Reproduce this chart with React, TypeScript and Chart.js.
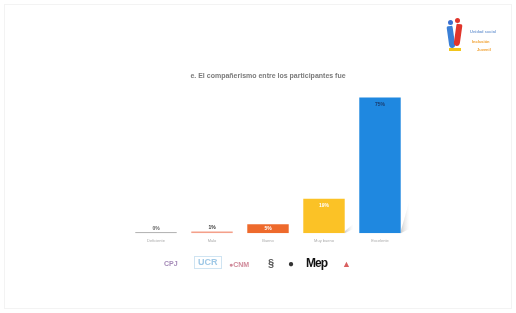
import React, { useEffect, useRef } from "react";
import { Chart, registerables } from "chart.js";

Chart.register(...registerables);

const TITLE = "e. El compañerismo entre los participantes fue";
const CATEGORIES = ["Deficiente", "Malo", "Bueno", "Muy bueno", "Excelente"];
const VALUES = [0, 1, 5, 19, 75];
const COLORS = ["#9e9e9e", "#f4a08a", "#ee6a2c", "#fbc226", "#1f88e0"];
const LABEL_COLORS = ["#666666", "#333333", "#ffffff", "#ffffff", "#1a3c6e"];

const valueLabels = {
  id: "valueLabels",
  afterDatasetsDraw(chart: any) {
    const ctx = chart.ctx;
    const meta = chart.getDatasetMeta(0);
    ctx.save();
    ctx.font = "bold 5px 'Liberation Sans', Arial, sans-serif";
    ctx.textAlign = "center";
    ctx.textBaseline = "middle";
    meta.data.forEach((bar: any, i: number) => {
      const v = VALUES[i];
      const h = bar.base - bar.y;
      let y: number;
      if (i === 2) y = bar.y + h / 2;
      else if (h > 14) y = bar.y + 7;
      else y = bar.y - 4;
      ctx.fillStyle = LABEL_COLORS[i];
      ctx.fillText(v + "%", bar.x, y);
    });
    ctx.restore();
  },
};

const shadows = {
  id: "shadows",
  beforeDatasetsDraw(chart: any) {
    const ctx = chart.ctx;
    const meta = chart.getDatasetMeta(0);
    ctx.save();
    meta.data.forEach((bar: any) => {
      const h = bar.base - bar.y;
      if (h < 20) return;
      const sh = Math.min(h * 0.25, 30);
      const x = bar.x + bar.width / 2;
      const g = ctx.createLinearGradient(x, 0, x + 8, 0);
      g.addColorStop(0, "rgba(160,160,160,0.55)");
      g.addColorStop(1, "rgba(225,225,225,0.1)");
      ctx.fillStyle = g;
      ctx.beginPath();
      ctx.moveTo(x, bar.base - 2);
      ctx.lineTo(x + 8, bar.base - sh);
      ctx.lineTo(x + 8, bar.base - 4);
      ctx.lineTo(x, bar.base);
      ctx.closePath();
      ctx.fill();
    });
    ctx.restore();
  },
};

function ChartCanvas() {
  const ref = useRef<HTMLCanvasElement | null>(null);
  useEffect(() => {
    if (!ref.current) return;
    const chart = new Chart(ref.current, {
      type: "bar",
      data: {
        labels: CATEGORIES,
        datasets: [
          {
            data: VALUES,
            backgroundColor: COLORS,
            borderWidth: 0,
            barPercentage: 0.74,
            categoryPercentage: 1,
            minBarLength: 1,
          },
        ],
      },
      options: {
        animation: false,
        responsive: false,
        maintainAspectRatio: false,
        layout: { padding: { left: 128, right: 108, top: 72, bottom: 65 } },
        plugins: {
          legend: { display: false },
          tooltip: { enabled: false },
          title: {
            display: true,
            text: TITLE,
            color: "#7a7a7a",
            font: { size: 7, weight: "bold", family: "'Liberation Sans', Arial, sans-serif" },
            padding: { top: 0, bottom: 8 },
          },
        },
        scales: {
          x: {
            grid: { display: false, drawTicks: false },
            border: { display: false },
            ticks: {
              color: "#aaaaaa",
              font: { size: 4, family: "'Liberation Sans', Arial, sans-serif" },
              padding: 5,
            },
          },
          y: {
            display: false,
            min: 0,
            max: 80,
          },
        },
      },
      plugins: [shadows, valueLabels],
    });
    return () => chart.destroy();
  }, []);
  return <canvas ref={ref} width={516} height={313} style={{ position: "absolute", left: 0, top: 0 }} />;
}

const logoStyle: React.CSSProperties = {
  position: "absolute",
  fontFamily: "'Liberation Sans', Arial, sans-serif",
  fontWeight: "bold",
  lineHeight: 1,
};

export default function App() {
  return (
    <div
      style={{
        position: "fixed",
        left: 0,
        top: 0,
        width: 516,
        height: 313,
        background: "#ffffff",
        overflow: "hidden",
      }}
    >
      <div
        style={{
          position: "absolute",
          left: 4,
          top: 4,
          width: 506,
          height: 303,
          border: "1px solid #f3f3f3",
        }}
      />
      <ChartCanvas />
      <div style={{ position: "absolute", left: 446, top: 18, width: 18, height: 38 }}>
        <div style={{ position: "absolute", left: 2, top: 2, width: 5, height: 5, borderRadius: 3, background: "#3a6fd0" }} />
        <div style={{ position: "absolute", left: 9, top: 0, width: 5, height: 5, borderRadius: 3, background: "#e0352b" }} />
        <div style={{ position: "absolute", left: 2, top: 8, width: 6, height: 22, background: "#3a7fd6", borderRadius: "2px 2px 4px 4px", transform: "rotate(-8deg)" }} />
        <div style={{ position: "absolute", left: 9, top: 6, width: 6, height: 22, background: "#e0352b", borderRadius: "2px 2px 4px 4px", transform: "rotate(8deg)" }} />
        <div style={{ position: "absolute", left: 3, top: 30, width: 12, height: 3, background: "#f2c51c" }} />
      </div>
      <div style={{ ...logoStyle, left: 470, top: 30, fontSize: 4, color: "#7aa0d6" }}>Unidad social</div>
      <div style={{ ...logoStyle, left: 472, top: 40, fontSize: 4, color: "#f0a030" }}>Inclusión</div>
      <div style={{ ...logoStyle, left: 477, top: 48, fontSize: 4, color: "#f0a030" }}>Juvenil</div>
      <div style={{ ...logoStyle, left: 164, top: 260, fontSize: 7, color: "#a58bb8" }}>CPJ</div>
      <div style={{ ...logoStyle, left: 194, top: 256, fontSize: 9, color: "#9fc8e6", border: "1px solid #cfe4f2", padding: "1px 3px" }}>UCR</div>
      <div style={{ ...logoStyle, left: 229, top: 261, fontSize: 7, color: "#d08a9a" }}>●CNM</div>
      <div style={{ ...logoStyle, left: 268, top: 258, fontSize: 11, color: "#555555" }}>§</div>
      <div style={{ ...logoStyle, left: 288, top: 259, fontSize: 10, color: "#333333" }}>●</div>
      <div style={{ ...logoStyle, left: 306, top: 257, fontSize: 12, color: "#111111", letterSpacing: -1 }}>Mep</div>
      <div style={{ ...logoStyle, left: 342, top: 260, fontSize: 9, color: "#d96060" }}>▲</div>
    </div>
  );
}
